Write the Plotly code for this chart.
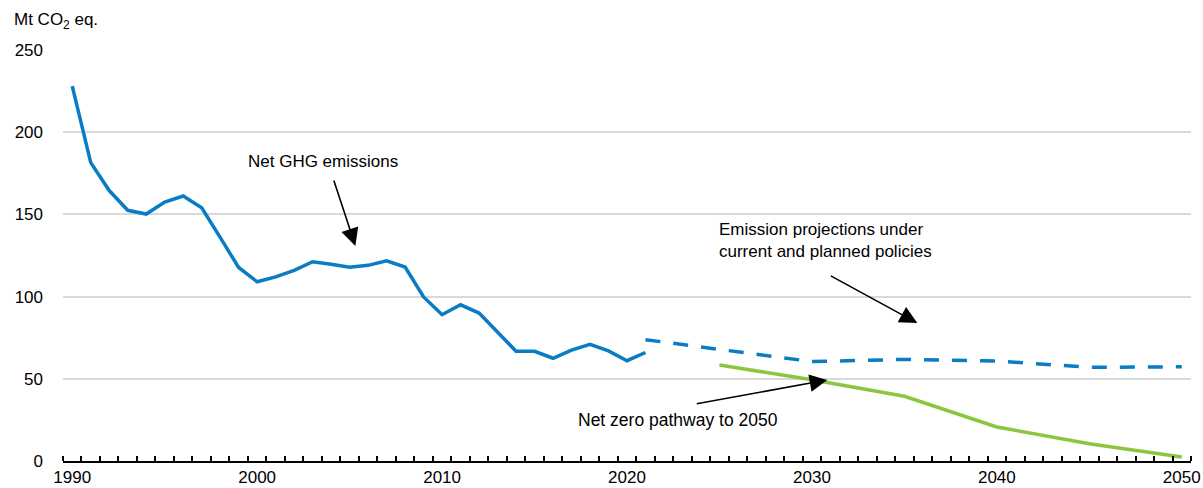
import plotly.graph_objects as go

hist_years = list(range(1990, 2022))
hist_values = [228, 181.5, 164.5, 152.5, 150.2, 157.5, 161.2, 154, 136, 117.7, 109,
               112, 116, 121.2, 119.7, 117.8, 119, 121.8, 118, 99.8, 89, 95, 90,
               78.5, 66.8, 66.7, 62.5, 67.5, 71, 67, 61, 66]

proj_years = [2021, 2025, 2030, 2035, 2040, 2045, 2050]
proj_values = [73.8, 68, 60.5, 61.8, 60.8, 57, 57.3]

nz_years = [2025, 2030, 2035, 2040, 2045, 2050]
nz_values = [58.4, 49.4, 39.4, 20.7, 10.5, 2.4]

x_labels = [1990, 2000, 2010, 2020, 2030, 2040, 2050]

BLUE = "#0A7CC4"
GREEN = "#8CC63F"
FONT = "Liberation Sans, Arial, sans-serif"
FS = 17

fig = go.Figure()
fig.add_trace(go.Scatter(x=hist_years, y=hist_values, mode="lines",
                         line=dict(color=BLUE, width=3.5), hoverinfo="skip"))
fig.add_trace(go.Scatter(x=proj_years, y=proj_values, mode="lines",
                         line=dict(color=BLUE, width=3.5, dash="15px,13px"), hoverinfo="skip"))
fig.add_trace(go.Scatter(x=nz_years, y=nz_values, mode="lines",
                         line=dict(color=GREEN, width=3.5), hoverinfo="skip"))

annotations = [
    dict(text="Mt CO<sub>2</sub> eq.", xref="paper", yref="paper", x=-0.0452, y=1.070,
         xanchor="left", yanchor="middle", showarrow=False, font=dict(size=FS)),
    dict(text="Net GHG emissions", x=2003.57, y=181.9, showarrow=False,
         xanchor="center", yanchor="middle", font=dict(size=FS)),
    dict(text="Emission projections under<br>current and planned policies", x=2024.88, y=134.4,
         showarrow=False, xanchor="left", yanchor="middle", align="left", font=dict(size=FS)),
    dict(text="Net zero pathway to 2050", x=2022.78, y=24.9, showarrow=False,
         xanchor="center", yanchor="middle", font=dict(size=FS + 0.5)),
]
arrows = [
    ((2004.12, 171.5), (2005.31, 130.8)),
    ((2030.94, 113.1), (2035.7, 83.9)),
    ((2023.69, 34.7), (2030.83, 49.3)),
]
for (tx, ty), (hx, hy) in arrows:
    annotations.append(dict(x=hx, y=hy, ax=tx, ay=ty, xref="x", yref="y", axref="x", ayref="y",
                            text="", showarrow=True, arrowhead=2, arrowsize=2.2,
                            arrowwidth=1.6, arrowcolor="black", standoff=0))

fig.update_layout(
    width=1203, height=488,
    margin=dict(l=63, r=12, t=50, b=27, autoexpand=False),
    paper_bgcolor="white", plot_bgcolor="white",
    showlegend=False,
    font=dict(family=FONT, size=FS, color="black"),
    annotations=annotations,
    xaxis=dict(range=[1989.5, 2050.5], tickvals=x_labels, ticks="", showgrid=False,
               showline=True, linecolor="black", linewidth=1.5, zeroline=False,
               automargin=False, tickfont=dict(size=FS), ticklabeloverflow="allow",
               minor=dict(tick0=1989.5, dtick=1, ticks="inside", ticklen=5,
                          tickcolor="black", tickwidth=1.5, showgrid=False)),
    yaxis=dict(range=[0, 250], dtick=50, showgrid=True, gridcolor="#D9D9D9", gridwidth=1.5,
               zeroline=False, showline=False, ticks="", ticklabelstandoff=19,
               automargin=False, tickfont=dict(size=FS)),
)

fig.write_html("out.html", config={"displayModeBar": False},
               post_script="document.body.style.margin='0';document.body.style.overflow='hidden';")
